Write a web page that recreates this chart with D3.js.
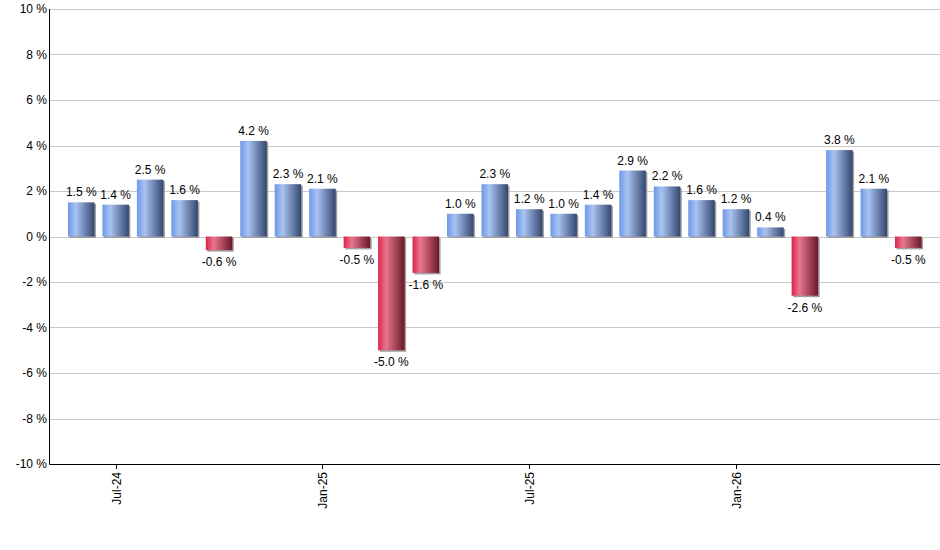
<!DOCTYPE html>
<html>
<head>
<meta charset="utf-8">
<script src="https://cdn.jsdelivr.net/npm/d3@7"></script>
<style>
  body { margin: 0; background: #fff; }
  text { font-family: Arial, "Liberation Sans", sans-serif; }
</style>
</head>
<body>
<div id="chartDiv"></div>
<script>
// monthly change, Jun-24 .. Jun-26
var months = ['Jun-24','Jul-24','Aug-24','Sep-24','Oct-24','Nov-24','Dec-24',
              'Jan-25','Feb-25','Mar-25','Apr-25','May-25','Jun-25','Jul-25',
              'Aug-25','Sep-25','Oct-25','Nov-25','Dec-25','Jan-26','Feb-26',
              'Mar-26','Apr-26','May-26','Jun-26'];
var changes = [1.5, 1.4, 2.5, 1.6, -0.6, 4.2, 2.3, 2.1, -0.5, -5.0, -1.6, 1.0, 2.3,
               1.2, 1.0, 1.4, 2.9, 2.2, 1.6, 1.2, 0.4, -2.6, 3.8, 2.1, -0.5];
var tickMonths = ['Jul-24', 'Jan-25', 'Jul-25', 'Jan-26'];
var yTicks = [-10, -8, -6, -4, -2, 0, 2, 4, 6, 8, 10];

var width = 940, height = 550;
// plot area (note: "top" is reserved on window, so use other names)
var plotLeft = 50, plotRight = 940, plotTop = 9, plotBottom = 464;

var svg = d3.select('#chartDiv').append('svg')
  .attr('width', width).attr('height', height);

var defs = svg.append('defs');

// gradients for the bars
function addGradient(id, stops) {
  var g = defs.append('linearGradient').attr('id', id)
    .attr('x1', '0%').attr('x2', '100%').attr('y1', '0%').attr('y2', '0%');
  g.selectAll('stop').data(stops).enter().append('stop')
    .attr('offset', function(d) { return d[0]; })
    .attr('stop-color', function(d) { return d[1]; });
}
addGradient('gradPos', [[0, '#6d98e6'], [0.3, '#a9c3f2'], [1, '#33466f']]);
addGradient('gradNeg', [[0, '#dc2349'], [0.3, '#e8768f'], [1, '#6a1727']]);

// bars sit inside a slightly inset band range
var x = d3.scaleBand()
  .domain(months)
  .range([64, 925.5])
  .paddingInner(0.23)
  .paddingOuter(0.115);

var y = d3.scaleLinear().domain([-10, 10]).range([plotBottom, plotTop]);

// grid lines
svg.append('g').selectAll('line')
  .data(yTicks).enter().append('line')
  .attr('x1', plotLeft).attr('x2', plotRight)
  .attr('y1', function(d) { return Math.round(y(d)) + 0.5; })
  .attr('y2', function(d) { return Math.round(y(d)) + 0.5; })
  .attr('stroke', '#c8c8c8').attr('stroke-width', 1);

// y tick labels
svg.append('g').selectAll('text')
  .data(yTicks).enter().append('text')
  .attr('x', plotLeft - 3)
  .attr('y', function(d) { return y(d) + 4; })
  .attr('text-anchor', 'end')
  .attr('font-size', 12)
  .attr('fill', '#000')
  .text(function(d) { return d + ' %'; });

// bar shadows
svg.append('g').selectAll('rect')
  .data(changes).enter().append('rect')
  .attr('x', function(d, i) { return x(months[i]) + 1.5; })
  .attr('y', function(d) { return Math.min(y(d), y(0)) + 1.5; })
  .attr('width', x.bandwidth())
  .attr('height', function(d) { return Math.abs(y(d) - y(0)); })
  .attr('fill', '#a0a0a0');

// bars
svg.append('g').selectAll('rect')
  .data(changes).enter().append('rect')
  .attr('x', function(d, i) { return x(months[i]); })
  .attr('y', function(d) { return Math.min(y(d), y(0)); })
  .attr('width', x.bandwidth())
  .attr('height', function(d) { return Math.abs(y(d) - y(0)); })
  .attr('fill', function(d) { return d < 0 ? 'url(#gradNeg)' : 'url(#gradPos)'; });

// value labels
svg.append('g').selectAll('text')
  .data(changes).enter().append('text')
  .attr('x', function(d, i) { return x(months[i]) + x.bandwidth() / 2; })
  .attr('y', function(d) { return d < 0 ? y(d) + 16 : y(d) - 6; })
  .attr('text-anchor', 'middle')
  .attr('font-size', 12)
  .attr('fill', '#000')
  .text(function(d) { return d.toFixed(1) + ' %'; });

// axes lines
svg.append('line')
  .attr('x1', plotLeft - 0.5).attr('x2', plotLeft - 0.5)
  .attr('y1', plotTop).attr('y2', plotBottom + 0.5)
  .attr('stroke', '#000');
svg.append('line')
  .attr('x1', plotLeft - 0.5).attr('x2', plotRight)
  .attr('y1', plotBottom + 0.5).attr('y2', plotBottom + 0.5)
  .attr('stroke', '#000');

// x ticks and rotated labels
var xt = svg.append('g').selectAll('g')
  .data(tickMonths).enter().append('g')
  .attr('transform', function(d) {
    return 'translate(' + (Math.round(x(d) + x.bandwidth() / 2) + 0.5) + ',' + plotBottom + ')';
  });
xt.append('line').attr('y1', 0).attr('y2', 5).attr('stroke', '#000');
xt.append('text')
  .attr('transform', 'rotate(-90)')
  .attr('x', -8).attr('y', 4)
  .attr('text-anchor', 'end')
  .attr('font-size', 12)
  .attr('fill', '#000')
  .text(function(d) { return d; });
</script>
</body>
</html>
